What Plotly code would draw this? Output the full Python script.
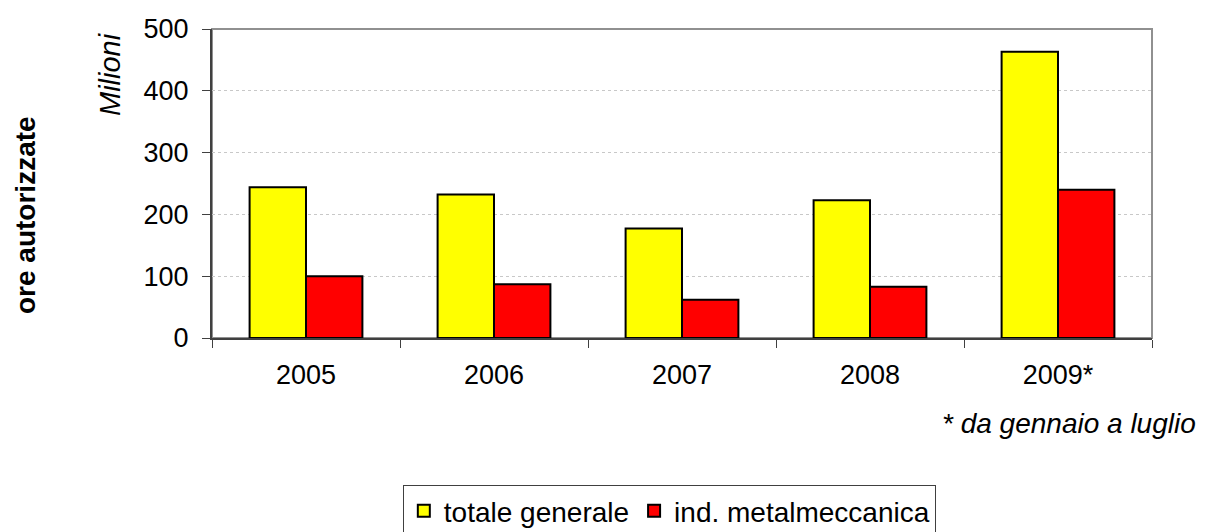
import plotly.graph_objects as go

years = ["2005", "2006", "2007", "2008", "2009*"]
totale_generale = [244, 232, 177, 223, 463]
ind_metalmeccanica = [100, 87, 62, 83, 240]
y_ticks = [0, 100, 200, 300, 400, 500]

FONT = "Liberation Sans, Arial, sans-serif"

fig = go.Figure()
fig.add_trace(go.Bar(
    x=years, y=totale_generale, name="totale generale",
    marker=dict(color="#FFFF00", line=dict(color="black", width=2)),
))
fig.add_trace(go.Bar(
    x=years, y=ind_metalmeccanica, name="ind. metalmeccanica",
    marker=dict(color="#FF0000", line=dict(color="black", width=2)),
))

fig.update_layout(
    width=1207, height=524,
    margin=dict(l=204, r=63, t=21, b=194, autoexpand=False),
    paper_bgcolor="white", plot_bgcolor="white",
    barmode="group", bargap=0.4, bargroupgap=0,
    font=dict(family=FONT, size=27, color="black"),
    showlegend=True,
    legend=dict(
        orientation="h", x=0.203, y=-0.476, xanchor="left", yanchor="top",
        bordercolor="#404040", borderwidth=1,
        font=dict(size=28, family=FONT, color="black"),
        itemwidth=30, tracegroupgap=0,
    ),
    shapes=[dict(type="rect", xref="paper", yref="paper", x0=0, x1=1, y0=0, y1=1,
                 line=dict(color="#909090", width=2), layer="below")],
)

fig.update_xaxes(
    type="category", range=[-0.5, 4.5],
    showline=True, linecolor="#404040", linewidth=2,
    ticks="outside", tickson="boundaries", ticklen=8, tickcolor="#404040", tickwidth=1,
    tickfont=dict(size=27, family=FONT, color="black"),
    ticklabelstandoff=12,
    showgrid=False,
)
fig.update_yaxes(
    range=[0, 500], tickvals=y_ticks,
    showline=True, linecolor="#404040", linewidth=2,
    ticks="outside", ticklen=8, tickcolor="#404040", tickwidth=1,
    tickfont=dict(size=27, family=FONT, color="black"),
    ticklabelstandoff=8,
    showgrid=True, gridcolor="#c8c8c8", griddash="dot", gridwidth=1,
    zeroline=False,
)

fig.add_annotation(text="<b>ore autorizzate</b>", xref="paper", yref="paper",
                   x=(17 - 204) / 940, y=(330 - 207) / 309, xanchor="center", yanchor="middle",
                   textangle=-90, showarrow=False,
                   font=dict(size=28, family=FONT, color="black"))
fig.add_annotation(text="<i>Milioni</i>", xref="paper", yref="paper",
                   x=(102 - 204) / 940, y=(330 - 66) / 309, xanchor="center", yanchor="middle",
                   textangle=-90, showarrow=False,
                   font=dict(size=29, family=FONT, color="black"))
fig.add_annotation(text="<i>* da gennaio a luglio</i>", xref="paper", yref="paper",
                   x=(1190 - 204) / 940, y=(330 - 415) / 309, xanchor="right", yanchor="middle",
                   showarrow=False,
                   font=dict(size=28, family=FONT, color="black"))

fig.write_html("out.html")
